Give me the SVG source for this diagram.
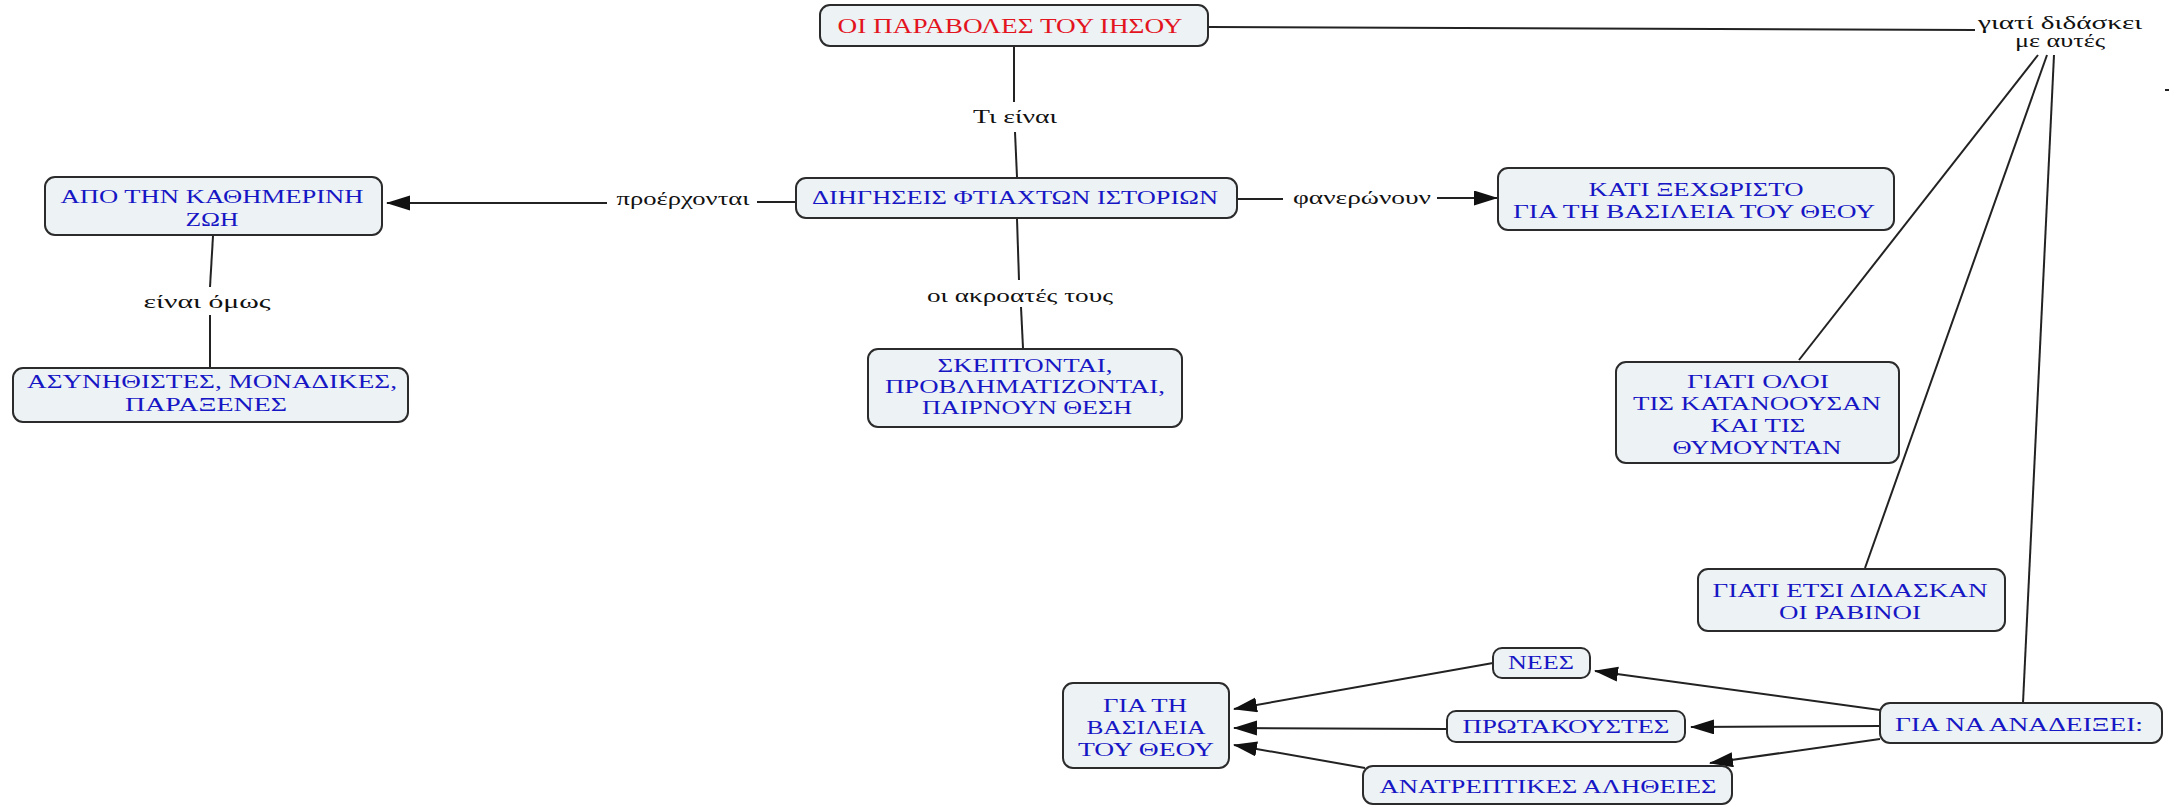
<svg xmlns="http://www.w3.org/2000/svg" width="2169" height="805" viewBox="0 0 2169 805">
<style>
.box{fill:#edf2f5;stroke:#2b2b2b;stroke-width:2}
.t{font-family:"Liberation Serif","DejaVu Serif",serif;font-size:18.5px;fill:#1616c4;text-anchor:middle}
.red{fill:#e3141e;font-size:20.5px}
.lb{font-family:"Liberation Serif","DejaVu Serif",serif;font-size:18px;fill:#111;text-anchor:middle}
.ln{fill:none;stroke:#222;stroke-width:2}
.ar{fill:none;stroke:#222;stroke-width:2;marker-end:url(#ah)}
</style>
<defs>
<marker id="ah" markerUnits="userSpaceOnUse" markerWidth="24" markerHeight="16" refX="23" refY="7.5" orient="auto">
<path d="M0,0 L24,7.5 L0,15 z" fill="#111"/>
</marker>
</defs>
<rect width="2169" height="805" fill="#ffffff"/>
<g id="connectors">
<line class="ln" x1="1014" y1="47" x2="1014" y2="102"/>
<line class="ln" x1="1015" y1="132" x2="1017" y2="177"/>
<line class="ln" x1="1017" y1="219" x2="1019" y2="280"/>
<line class="ln" x1="1021" y1="307" x2="1023" y2="348"/>
<line class="ln" x1="795" y1="202" x2="757" y2="202"/>
<line class="ar" x1="607" y1="203" x2="387" y2="203"/>
<line class="ln" x1="1238" y1="199" x2="1283" y2="199"/>
<line class="ar" x1="1437" y1="198" x2="1497" y2="198"/>
<line class="ln" x1="213" y1="236" x2="210" y2="287"/>
<line class="ln" x1="210" y1="315" x2="210" y2="367"/>
<line class="ln" x1="1209" y1="27" x2="1975" y2="30"/>
<line class="ln" x1="2038" y1="55" x2="1799" y2="360"/>
<line class="ln" x1="2047" y1="55" x2="1865" y2="568"/>
<line class="ln" x1="2054" y1="55" x2="2023" y2="703"/>
<line class="ar" x1="1880" y1="710" x2="1595" y2="671"/>
<line class="ar" x1="1880" y1="726" x2="1691" y2="727"/>
<line class="ar" x1="1880" y1="739" x2="1710" y2="763"/>
<line class="ar" x1="1493" y1="663" x2="1234" y2="709"/>
<line class="ar" x1="1447" y1="729" x2="1234" y2="728"/>
<line class="ar" x1="1365" y1="768" x2="1234" y2="745"/>
<line class="ln" x1="2165" y1="90" x2="2169" y2="90"/>
<text class="lb" x="1015" y="123" textLength="84" lengthAdjust="spacingAndGlyphs">Τι είναι</text>
<text class="lb" x="683" y="205" textLength="133" lengthAdjust="spacingAndGlyphs">προέρχονται</text>
<text class="lb" x="1362" y="204" textLength="138" lengthAdjust="spacingAndGlyphs">φανερώνουν</text>
<text class="lb" x="207" y="308" textLength="127" lengthAdjust="spacingAndGlyphs">είναι όμως</text>
<text class="lb" x="1020" y="302" textLength="186" lengthAdjust="spacingAndGlyphs">οι ακροατές τους</text>
<text class="lb" x="2060" y="29" textLength="164" lengthAdjust="spacingAndGlyphs">γιατί διδάσκει</text>
<text class="lb" x="2060" y="47" textLength="90" lengthAdjust="spacingAndGlyphs">με αυτές</text>
</g>
<g id="n1">
<rect class="box" x="820" y="5" width="388" height="41" rx="10"/>
<text class="t red" x="1010" y="33" textLength="345" lengthAdjust="spacingAndGlyphs">ΟΙ ΠΑΡΑΒΟΛΕΣ ΤΟΥ ΙΗΣΟΥ</text>
</g>
<g id="n2">
<rect class="box" x="796" y="178" width="441" height="40" rx="10"/>
<text class="t" x="1015" y="204" textLength="406" lengthAdjust="spacingAndGlyphs">ΔΙΗΓΗΣΕΙΣ ΦΤΙΑΧΤΩΝ ΙΣΤΟΡΙΩΝ</text>
</g>
<g id="n3">
<rect class="box" x="1498" y="168" width="396" height="62" rx="10"/>
<text class="t" x="1696" y="196" textLength="215" lengthAdjust="spacingAndGlyphs">ΚΑΤΙ ΞΕΧΩΡΙΣΤΟ</text>
<text class="t" x="1694" y="218" textLength="362" lengthAdjust="spacingAndGlyphs">ΓΙΑ ΤΗ ΒΑΣΙΛΕΙΑ ΤΟΥ ΘΕΟΥ</text>
</g>
<g id="n4">
<rect class="box" x="45" y="177" width="337" height="58" rx="10"/>
<text class="t" x="212" y="203" textLength="303" lengthAdjust="spacingAndGlyphs">ΑΠΟ ΤΗΝ ΚΑΘΗΜΕΡΙΝΗ</text>
<text class="t" x="212" y="226" textLength="53" lengthAdjust="spacingAndGlyphs">ΖΩΗ</text>
</g>
<g id="n5">
<rect class="box" x="13" y="368" width="395" height="54" rx="10"/>
<text class="t" x="212" y="388" textLength="370" lengthAdjust="spacingAndGlyphs">ΑΣΥΝΗΘΙΣΤΕΣ, ΜΟΝΑΔΙΚΕΣ,</text>
<text class="t" x="206" y="411" textLength="162" lengthAdjust="spacingAndGlyphs">ΠΑΡΑΞΕΝΕΣ</text>
</g>
<g id="n6">
<rect class="box" x="868" y="349" width="314" height="78" rx="10"/>
<text class="t" x="1025" y="372" textLength="175" lengthAdjust="spacingAndGlyphs">ΣΚΕΠΤΟΝΤΑΙ,</text>
<text class="t" x="1025" y="393" textLength="280" lengthAdjust="spacingAndGlyphs">ΠΡΟΒΛΗΜΑΤΙΖΟΝΤΑΙ,</text>
<text class="t" x="1027" y="414" textLength="210" lengthAdjust="spacingAndGlyphs">ΠΑΙΡΝΟΥΝ ΘΕΣΗ</text>
</g>
<g id="n7">
<rect class="box" x="1616" y="362" width="283" height="101" rx="10"/>
<text class="t" x="1758" y="388" textLength="142" lengthAdjust="spacingAndGlyphs">ΓΙΑΤΙ ΟΛΟΙ</text>
<text class="t" x="1757" y="410" textLength="248" lengthAdjust="spacingAndGlyphs">ΤΙΣ ΚΑΤΑΝΟΟΥΣΑΝ</text>
<text class="t" x="1758" y="432" textLength="95" lengthAdjust="spacingAndGlyphs">ΚΑΙ ΤΙΣ</text>
<text class="t" x="1757" y="454" textLength="169" lengthAdjust="spacingAndGlyphs">ΘΥΜΟΥΝΤΑΝ</text>
</g>
<g id="n8">
<rect class="box" x="1698" y="569" width="307" height="62" rx="10"/>
<text class="t" x="1850" y="597" textLength="275" lengthAdjust="spacingAndGlyphs">ΓΙΑΤΙ ΕΤΣΙ ΔΙΔΑΣΚΑΝ</text>
<text class="t" x="1850" y="619" textLength="142" lengthAdjust="spacingAndGlyphs">ΟΙ ΡΑΒΙΝΟΙ</text>
</g>
<g id="n9">
<rect class="box" x="1880" y="703" width="282" height="40" rx="10"/>
<text class="t" x="2019" y="731" textLength="248" lengthAdjust="spacingAndGlyphs">ΓΙΑ ΝΑ ΑΝΑΔΕΙΞΕΙ:</text>
</g>
<g id="n10">
<rect class="box" x="1493" y="648" width="97" height="30" rx="9"/>
<text class="t" x="1541" y="669" textLength="66" lengthAdjust="spacingAndGlyphs">ΝΕΕΣ</text>
</g>
<g id="n11">
<rect class="box" x="1447" y="711" width="238" height="31" rx="9"/>
<text class="t" x="1566" y="733" textLength="207" lengthAdjust="spacingAndGlyphs">ΠΡΩΤΑΚΟΥΣΤΕΣ</text>
</g>
<g id="n12">
<rect class="box" x="1363" y="766" width="369" height="38" rx="10"/>
<text class="t" x="1548" y="793" textLength="337" lengthAdjust="spacingAndGlyphs">ΑΝΑΤΡΕΠΤΙΚΕΣ ΑΛΗΘΕΙΕΣ</text>
</g>
<g id="n13">
<rect class="box" x="1063" y="683" width="166" height="85" rx="10"/>
<text class="t" x="1145" y="712" textLength="84" lengthAdjust="spacingAndGlyphs">ΓΙΑ ΤΗ</text>
<text class="t" x="1146" y="734" textLength="119" lengthAdjust="spacingAndGlyphs">ΒΑΣΙΛΕΙΑ</text>
<text class="t" x="1146" y="756" textLength="136" lengthAdjust="spacingAndGlyphs">ΤΟΥ ΘΕΟΥ</text>
</g>
</svg>
